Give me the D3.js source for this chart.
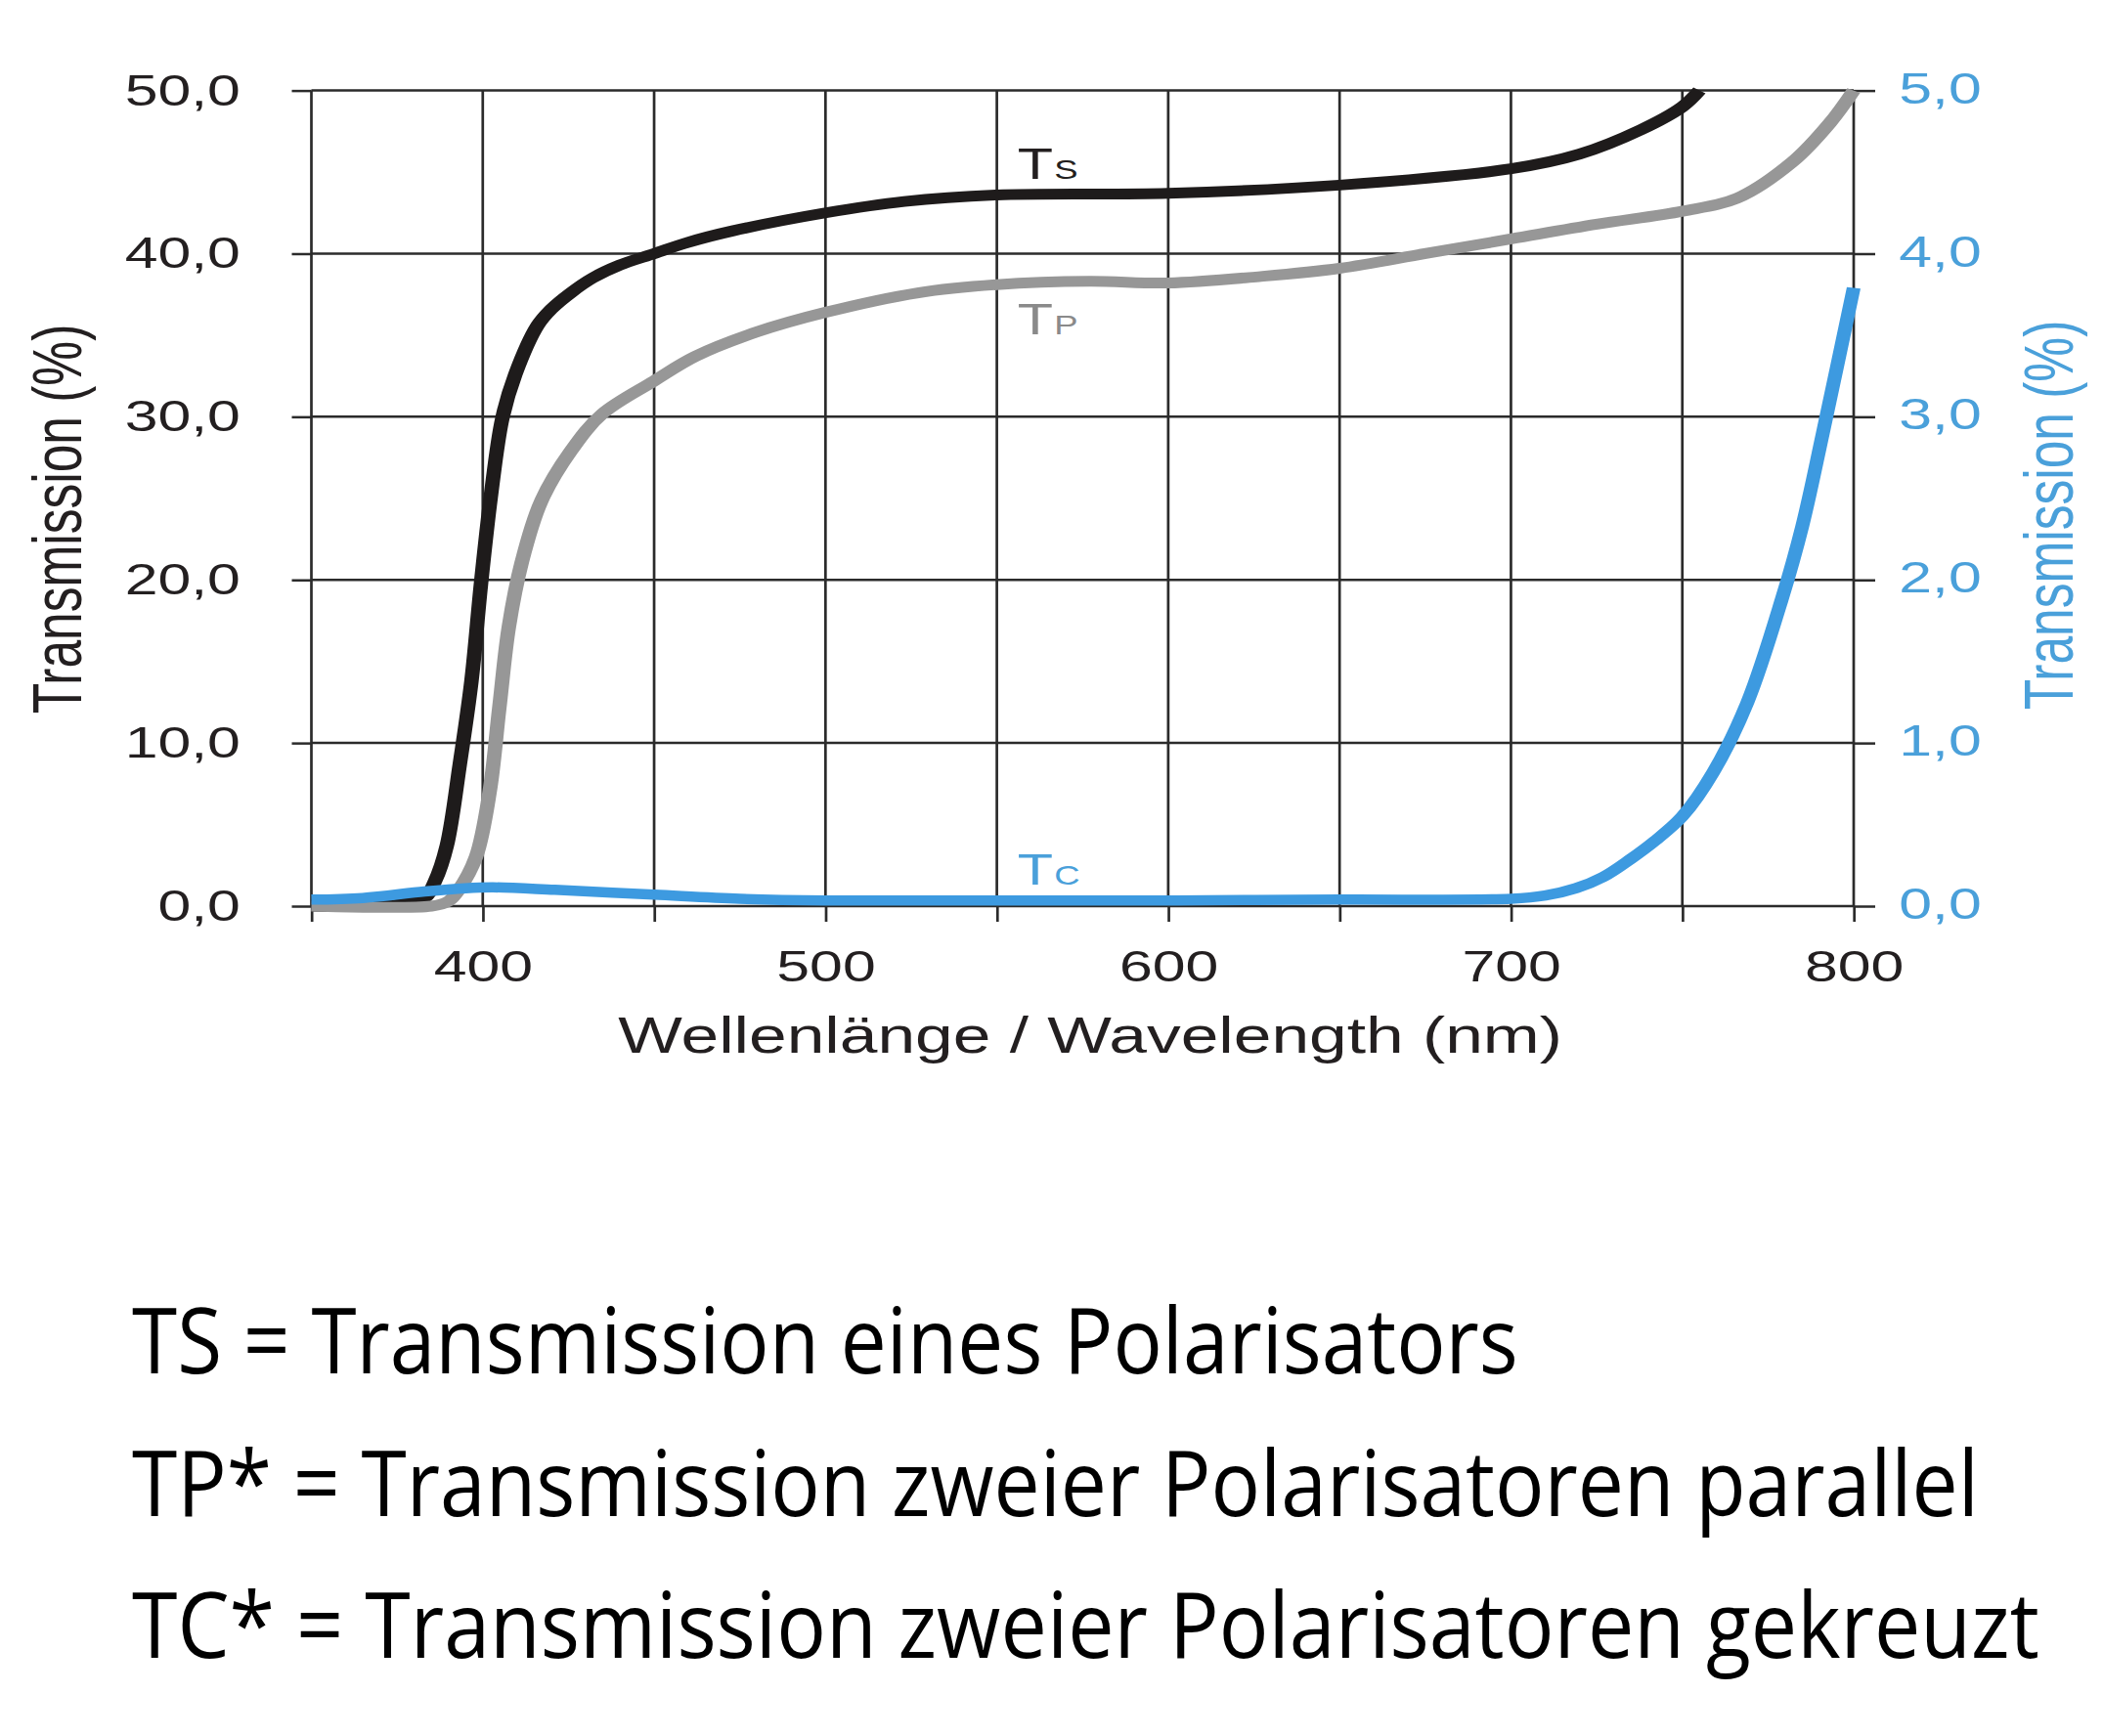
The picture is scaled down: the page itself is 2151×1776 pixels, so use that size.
<!DOCTYPE html>
<html>
<head>
<meta charset="utf-8">
<script src="https://cdn.jsdelivr.net/npm/d3@7"></script>
<style>
  body { margin: 0; background: #fff; }
</style>
</head>
<body>
<div id="chart"></div>
<script>
// values
const tsWavelength = [350, 375, 383, 386, 389.5, 393.3, 396.7, 399.5, 402.4, 405.7, 409.5, 416, 420, 425.7, 432, 440, 450, 460, 473, 500, 523, 550, 600, 650, 700, 720, 738, 750, 755];
const tsValue      = [0, 0.1, 0.5, 1.5, 3.7, 8.7, 13.8, 19.8, 25.2, 29.9, 32.6, 35.6, 36.6, 37.6, 38.5, 39.3, 40.0, 40.7, 41.4, 42.5, 43.2, 43.6, 43.7, 44.2, 45.2, 46.1, 47.6, 49.0, 50.0];

const tpWavelength = [350, 385, 390, 393, 398, 402, 404.8, 407.6, 411.4, 417, 425.7, 435, 450, 462, 480, 500, 527, 550, 577, 600, 627, 650, 675, 700, 725, 750, 766, 782, 793, 800];
const tpValue      = [0, 0, 0.3, 1.0, 3.0, 7.0, 12.1, 17.1, 21.1, 24.8, 27.9, 30.2, 32.2, 33.7, 35.2, 36.4, 37.6, 38.1, 38.3, 38.2, 38.6, 39.1, 40.0, 40.9, 41.8, 42.6, 43.4, 45.6, 48.0, 50.0];

// Tc belongs to the right hand axis (0 - 5 %)
const tcWavelength = [350, 365, 383, 395, 403, 421, 450, 475, 500, 550, 600, 650, 700, 710, 719, 727, 735, 742, 750, 759, 769, 779, 785, 791, 800];
const tcValue      = [0.04, 0.05, 0.09, 0.11, 0.115, 0.1, 0.07, 0.045, 0.035, 0.035, 0.035, 0.04, 0.045, 0.065, 0.11, 0.18, 0.29, 0.4, 0.55, 0.82, 1.25, 1.88, 2.33, 2.9, 3.79];

const xTicks = [350, 400, 450, 500, 550, 600, 650, 700, 750, 800];
const xLabels = [400, 500, 600, 700, 800];
const leftTicks = [0, 10, 20, 30, 40, 50];
const rightTicks = [0, 1, 2, 3, 4, 5];

const curveNames = ["S", "P", "C"];
const notes = [
    "TS = Transmission eines Polarisators",
    "TP* = Transmission zweier Polarisatoren parallel",
    "TC* = Transmission zweier Polarisatoren gekreuzt"
];

const width = 2151;
const height = 1776;
const SX = 1.35;   // the whole graphic is stretched sideways
const font = "'Liberation Sans', Arial, sans-serif";
const gridColor = "#2b2b2b";
const textColor = "#231f20";
const blue = "#3d9ae0";
const blueText = "#4aa0da";

const svg = d3.select("#chart")
    .append("svg")
    .attr("width", width)
    .attr("height", height);

const chart = svg.append("g")
    .attr("transform", "scale(" + SX + ",1)");

const x = d3.scaleLinear().domain([350, 800]).range([318.5 / SX, 1896 / SX]);
const yLeft = d3.scaleLinear().domain([0, 50]).range([927, 92.6]);
const yRight = d3.scaleLinear().domain([0, 5]).range([927, 92.6]);

// grid
chart.append("g").selectAll("line")
    .data(leftTicks)
    .enter()
    .append("line")
    .attr("x1", x(350))
    .attr("x2", x(800))
    .attr("y1", d => yLeft(d))
    .attr("y2", d => yLeft(d))
    .attr("stroke", gridColor)
    .attr("stroke-width", 2.5);

chart.append("g").selectAll("line")
    .data(xTicks)
    .enter()
    .append("line")
    .attr("x1", d => x(d))
    .attr("x2", d => x(d))
    .attr("y1", yLeft(50))
    .attr("y2", yLeft(0))
    .attr("stroke", gridColor)
    .attr("stroke-width", 2);

// axes
const fmt = d => d.toFixed(1).replace(".", ",");

const leftAxis = chart.append("g")
    .attr("transform", "translate(" + x(350) + ",0)")
    .call(d3.axisLeft(yLeft).tickValues(leftTicks).tickSize(20 / SX).tickPadding(39).tickFormat(fmt));

const rightAxis = chart.append("g")
    .attr("transform", "translate(" + x(800) + ",0)")
    .call(d3.axisRight(yRight).tickValues(rightTicks).tickSize(22 / SX).tickPadding(18).tickFormat(fmt));

const bottomAxis = chart.append("g")
    .attr("transform", "translate(0," + yLeft(0) + ")")
    .call(d3.axisBottom(x).tickValues(xTicks).tickSize(16).tickPadding(29)
        .tickFormat(d => xLabels.includes(d) ? d : ""));

[leftAxis, rightAxis, bottomAxis].forEach(function (a) {
    a.select(".domain").remove();
    a.selectAll(".tick line").attr("stroke", gridColor).attr("stroke-width", 2.5);
    a.selectAll(".tick text")
        .attr("font-family", font)
        .attr("font-size", 45)
        .attr("fill", textColor);
});
bottomAxis.selectAll(".tick line").attr("stroke-width", 2);
rightAxis.selectAll(".tick text").attr("fill", blueText).attr("dy", "0.28em");

// curves
const line = d3.line().curve(d3.curveCatmullRom.alpha(0.5));

chart.append("path")
    .attr("d", line(tsWavelength.map((w, i) => [x(w), yLeft(tsValue[i])])))
    .attr("fill", "none")
    .attr("stroke", "#1e1b1b")
    .attr("stroke-width", 11)
    .attr("stroke-linejoin", "round");

chart.append("path")
    .attr("d", line(tpWavelength.map((w, i) => [x(w), yLeft(tpValue[i])])))
    .attr("fill", "none")
    .attr("stroke", "#979797")
    .attr("stroke-width", 11)
    .attr("stroke-linejoin", "round");

chart.append("path")
    .attr("d", line(tcWavelength.map((w, i) => [x(w), yRight(tcValue[i])])))
    .attr("fill", "none")
    .attr("stroke", blue)
    .attr("stroke-width", 10.5)
    .attr("stroke-linejoin", "round");

// curve names
const labelY = [yLeft(44.6), yLeft(35.05), yRight(0.13)];
const labelColor = ["#231f20", "#8a8a8a", blueText];
curveNames.forEach(function (name, i) {
    const t = chart.append("text")
        .attr("x", x(556))
        .attr("y", labelY[i])
        .attr("font-family", font)
        .attr("font-size", 44)
        .attr("fill", labelColor[i])
        .text("T");
    t.append("tspan")
        .attr("font-size", 27)
        .attr("dx", 1)
        .text(name);
});

// axis titles
chart.append("text")
    .attr("x", 1115 / SX)
    .attr("y", 1077)
    .attr("text-anchor", "middle")
    .attr("font-family", font)
    .attr("font-size", 51.5)
    .attr("fill", textColor)
    .text("Wellenlänge / Wavelength (nm)");

chart.append("text")
    .attr("transform", "translate(" + (83 / SX) + ",531) rotate(-90)")
    .attr("text-anchor", "middle")
    .attr("font-family", font)
    .attr("font-size", 51.5)
    .attr("fill", textColor)
    .text("Transmission (%)");

chart.append("text")
    .attr("transform", "translate(" + (2120 / SX) + ",527) rotate(-90)")
    .attr("text-anchor", "middle")
    .attr("font-family", font)
    .attr("font-size", 51.5)
    .attr("fill", blueText)
    .text("Transmission (%)");

// notes under the chart, squeezed to the printed widths
const noteWidth = [1418, 1889, 1951];
const noteY = [1405, 1551, 1696];
svg.append("g").selectAll("text")
    .data(notes)
    .enter()
    .append("text")
    .attr("font-family", "'Open Sans', 'Noto Sans', sans-serif")
    .attr("font-size", 94)
    .attr("fill", "#000")
    .text(d => d)
    .attr("transform", function (d, i) {
        const k = noteWidth[i] / this.getComputedTextLength();
        return "translate(135," + noteY[i] + ") scale(" + k + ",1)";
    });
</script>
</body>
</html>
